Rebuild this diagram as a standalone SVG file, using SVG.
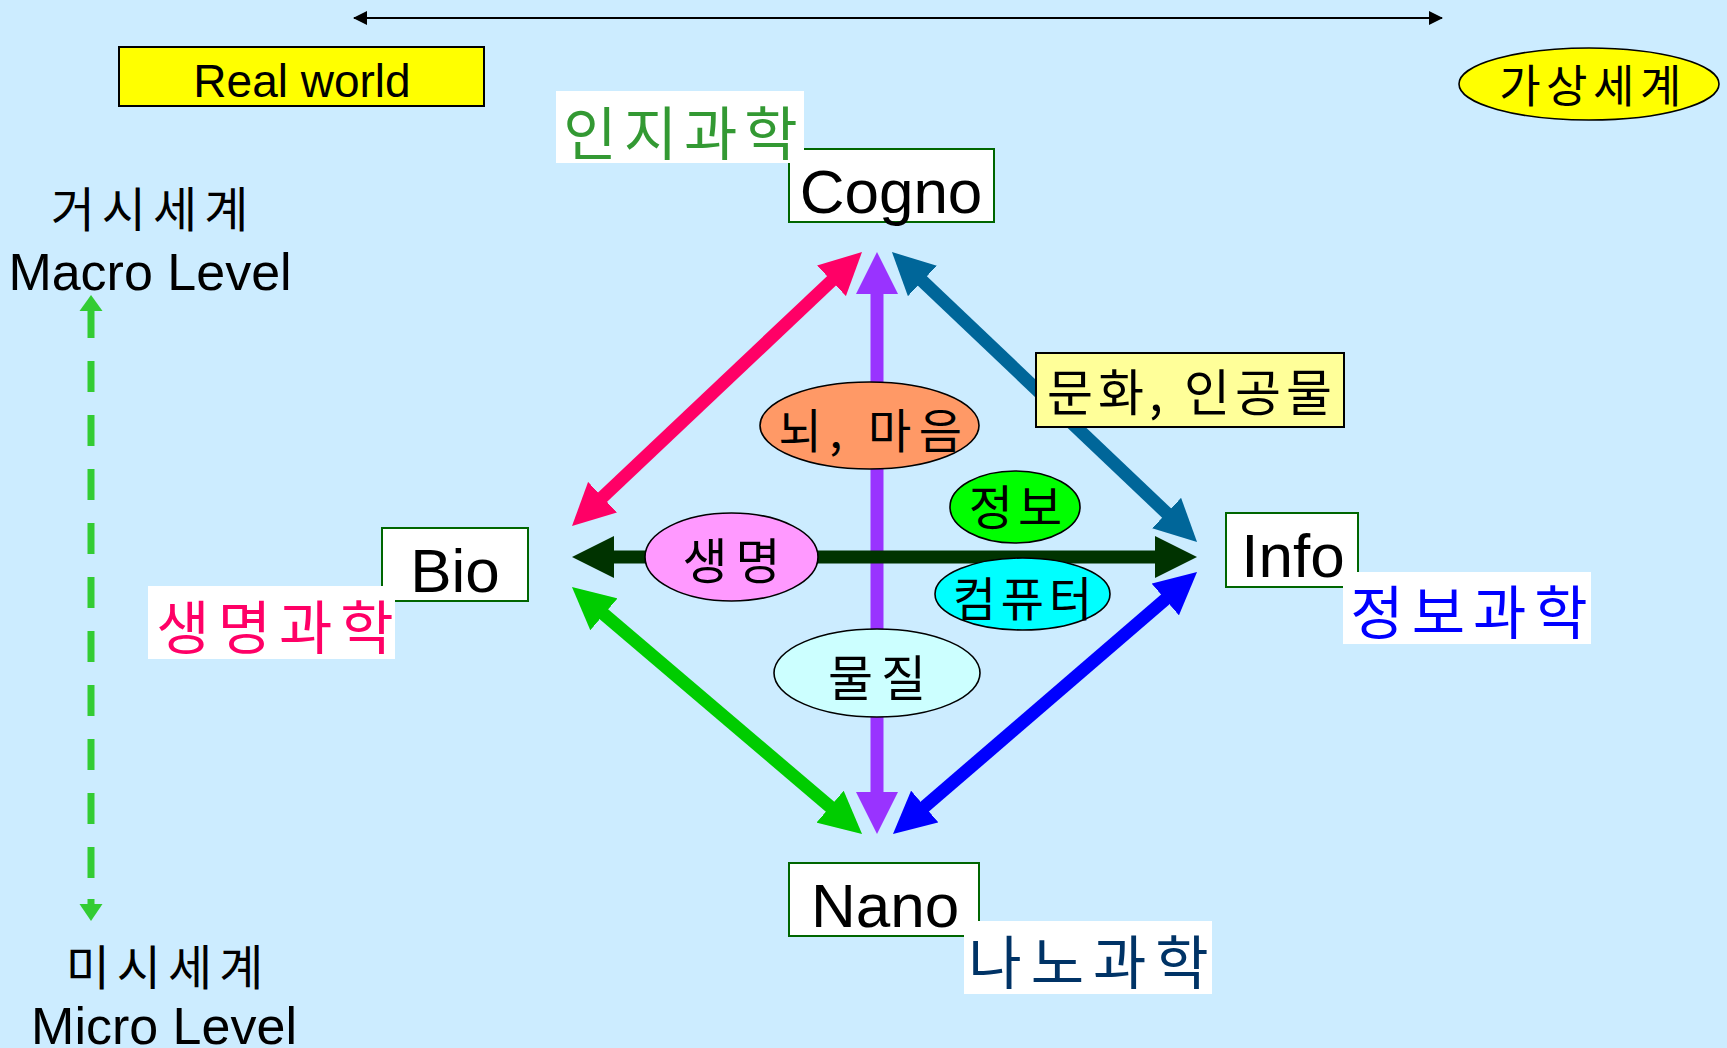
<svg xmlns="http://www.w3.org/2000/svg" width="1727" height="1048" viewBox="0 0 1727 1048">
<style>
.lat{font-family:"Liberation Sans",Arial,sans-serif;fill:#000}
.kr{font-family:"Noto Sans CJK KR","Noto Sans",sans-serif;fill:#000}
.box{fill:#fff;stroke:#006600;stroke-width:2}
.wb{fill:#fff}
.ell{stroke:#000;stroke-width:1.6}
.arr{fill:none;stroke-width:13}
</style>
<defs>
<marker id="mPink" markerUnits="userSpaceOnUse" viewBox="0 0 42 42" markerWidth="42" markerHeight="42" refX="12" refY="21" orient="auto-start-reverse"><path d="M0,0L42,21L0,42z" fill="#FF0066"/></marker>
<marker id="mPurple" markerUnits="userSpaceOnUse" viewBox="0 0 42 42" markerWidth="42" markerHeight="42" refX="12" refY="21" orient="auto-start-reverse"><path d="M0,0L42,21L0,42z" fill="#9933FF"/></marker>
<marker id="mTeal" markerUnits="userSpaceOnUse" viewBox="0 0 42 42" markerWidth="42" markerHeight="42" refX="12" refY="21" orient="auto-start-reverse"><path d="M0,0L42,21L0,42z" fill="#006699"/></marker>
<marker id="mDark" markerUnits="userSpaceOnUse" viewBox="0 0 42 42" markerWidth="42" markerHeight="42" refX="12" refY="21" orient="auto-start-reverse"><path d="M0,0L42,21L0,42z" fill="#003300"/></marker>
<marker id="mGreen" markerUnits="userSpaceOnUse" viewBox="0 0 42 42" markerWidth="42" markerHeight="42" refX="12" refY="21" orient="auto-start-reverse"><path d="M0,0L42,21L0,42z" fill="#00CC00"/></marker>
<marker id="mBlue" markerUnits="userSpaceOnUse" viewBox="0 0 42 42" markerWidth="42" markerHeight="42" refX="12" refY="21" orient="auto-start-reverse"><path d="M0,0L42,21L0,42z" fill="#0000FF"/></marker>
<marker id="mBlack" markerUnits="userSpaceOnUse" viewBox="0 0 14 14" markerWidth="14" markerHeight="14" refX="13" refY="7" orient="auto-start-reverse"><path d="M0,0L14,7L0,14z" fill="#000"/></marker>
</defs>
<rect width="1727" height="1048" fill="#CCECFF"/>

<g id="connectors">
  <line x1="354" y1="18" x2="1442" y2="18" stroke="#000" stroke-width="2" marker-start="url(#mBlack)" marker-end="url(#mBlack)"/>
  <g id="scale-arrow">
    <line x1="91" y1="307" x2="91" y2="880" stroke="#33CC33" stroke-width="7" stroke-dasharray="31 23"/>
    <polygon points="91,295 102.5,311 79.5,311" fill="#33CC33"/>
    <line x1="91" y1="899" x2="91" y2="906" stroke="#33CC33" stroke-width="7"/>
    <polygon points="91,921 102.5,904 79.5,904" fill="#33CC33"/>
  </g>
  <line class="arr" stroke="#FF0066" x1="840.2" y1="272.6" x2="593.8" y2="505.4" marker-start="url(#mPink)" marker-end="url(#mPink)"/>
  <line class="arr" stroke="#9933FF" x1="877" y1="282" x2="877" y2="804" marker-start="url(#mPurple)" marker-end="url(#mPurple)"/>
  <line class="arr" stroke="#006699" x1="913.7" y1="272.7" x2="1175.3" y2="521.3" marker-start="url(#mTeal)" marker-end="url(#mTeal)"/>
  <line class="arr" stroke="#003300" x1="602" y1="557" x2="1167" y2="557" marker-start="url(#mDark)" marker-end="url(#mDark)"/>
  <line class="arr" stroke="#00CC00" x1="594.8" y1="606.5" x2="839.2" y2="814.5" marker-start="url(#mGreen)" marker-end="url(#mGreen)"/>
  <line class="arr" stroke="#0000FF" x1="1174.3" y1="591.6" x2="915.7" y2="814.4" marker-start="url(#mBlue)" marker-end="url(#mBlue)"/>
</g>

<g id="real-world">
  <rect x="119" y="47" width="365" height="59" fill="#FFFF00" stroke="#000" stroke-width="2"/>
  <text class="lat" x="302" y="97" font-size="46" text-anchor="middle">Real world</text>
</g>
<g id="virtual-world">
  <ellipse cx="1589" cy="84" rx="130" ry="36" fill="#FFFF00" class="ell"/>
  <text class="kr" x="1593" y="103" font-size="45" text-anchor="middle" letter-spacing="5.5">가상세계</text>
</g>
<g id="macro">
  <text class="kr" x="153" y="227" font-size="48" text-anchor="middle" letter-spacing="7">거시세계</text>
  <text class="lat" x="150" y="290" font-size="52" text-anchor="middle">Macro Level</text>
</g>
<g id="micro">
  <text class="kr" x="168" y="985" font-size="48" text-anchor="middle" letter-spacing="7">미시세계</text>
  <text class="lat" x="164" y="1044" font-size="52" text-anchor="middle">Micro Level</text>
</g>

<g id="cogno">
  <rect class="box" x="789" y="149" width="205" height="73"/>
  <text class="lat" x="891" y="213" font-size="62" text-anchor="middle">Cogno</text>
</g>
<g id="cogno-label">
  <rect class="wb" x="556" y="91" width="248" height="72"/>
  <text class="kr" x="684" y="155" font-size="58" text-anchor="middle" letter-spacing="7" style="fill:#339933">인지과학</text>
</g>

<g id="bio">
  <rect class="box" x="382" y="528" width="146" height="73"/>
  <text class="lat" x="455" y="592" font-size="62" text-anchor="middle">Bio</text>
</g>
<g id="bio-label">
  <rect class="wb" x="148" y="586" width="247" height="73"/>
  <text class="kr" x="279" y="649" font-size="58" text-anchor="middle" letter-spacing="8" style="fill:#FF0066">생명과학</text>
</g>

<g id="info">
  <rect class="box" x="1226" y="513" width="132" height="74"/>
  <text class="lat" x="1293" y="577" font-size="62" text-anchor="middle">Info</text>
</g>
<g id="info-label">
  <rect class="wb" x="1343" y="572" width="248" height="72"/>
  <text class="kr" x="1473" y="634" font-size="58" text-anchor="middle" letter-spacing="8" style="fill:#0000FF">정보과학</text>
</g>

<g id="nano">
  <rect class="box" x="789" y="863" width="190" height="73"/>
  <text class="lat" x="885" y="927" font-size="62" text-anchor="middle">Nano</text>
</g>
<g id="nano-label">
  <rect class="wb" x="964" y="921" width="248" height="73"/>
  <text class="kr" x="1093" y="984" font-size="58" text-anchor="middle" letter-spacing="9" style="fill:#003366">나노과학</text>
</g>

<g id="culture">
  <rect x="1036" y="353" width="308" height="74" fill="#FFFF99" stroke="#000" stroke-width="2"/>
  <text class="kr" x="1192" y="411" font-size="50" text-anchor="middle" letter-spacing="5">문화, 인공물</text>
</g>
<g id="brain">
  <ellipse class="ell" cx="869.5" cy="425.5" rx="109.5" ry="43.5" fill="#FF9966"/>
  <text class="kr" x="874" y="448" font-size="47" text-anchor="middle" letter-spacing="7.5">뇌, 마음</text>
</g>
<g id="information">
  <ellipse class="ell" cx="1015" cy="507" rx="65" ry="36" fill="#00FF00"/>
  <text class="kr" x="1018" y="525" font-size="48" text-anchor="middle" letter-spacing="5">정보</text>
</g>
<g id="computer">
  <ellipse class="ell" cx="1022.5" cy="594" rx="87.5" ry="36" fill="#00FFFF"/>
  <text class="kr" x="1025" y="616" font-size="47" text-anchor="middle" letter-spacing="5">컴퓨터</text>
</g>
<g id="life">
  <ellipse class="ell" cx="731.5" cy="557" rx="86.5" ry="44" fill="#FF99FF"/>
  <text class="kr" x="735.5" y="579" font-size="49" text-anchor="middle" letter-spacing="8">생명</text>
</g>
<g id="matter">
  <ellipse class="ell" cx="877" cy="673" rx="103" ry="44" fill="#CCFFFF"/>
  <text class="kr" x="881" y="696" font-size="49" text-anchor="middle" letter-spacing="8">물질</text>
</g>
</svg>
